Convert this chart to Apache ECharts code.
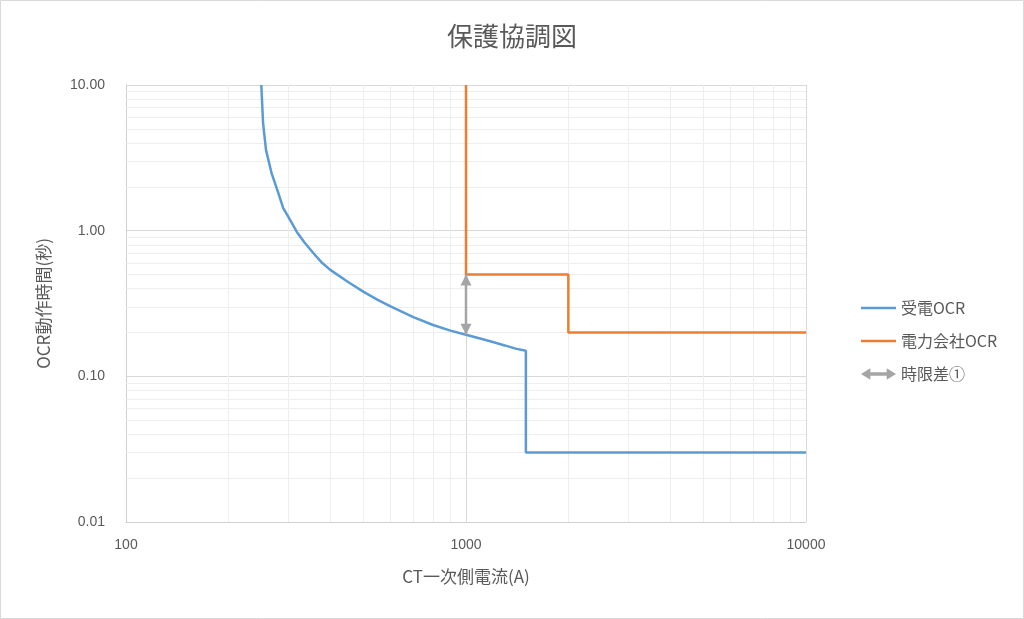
<!DOCTYPE html>
<html><head><meta charset="utf-8">
<script src="https://cdn.jsdelivr.net/npm/echarts@6/dist/echarts.min.js"></script>
<style>html,body{margin:0;padding:0;background:#fff}#c{width:1024px;height:619px}</style>
</head><body><div id="c"></div>
<script>
// 受電OCR: [current (A), time (s)]
const receivingOCR = [
  [250, 10.0], [253, 5.5], [258, 3.6], [268, 2.48], [280, 1.84], [290, 1.43],
  [300, 1.25], [318, 0.98], [335, 0.83], [356, 0.70], [375, 0.61], [398, 0.54],
  [450, 0.444], [500, 0.38], [550, 0.335], [600, 0.302], [700, 0.255], [800, 0.225],
  [900, 0.206], [1000, 0.193], [1100, 0.182], [1200, 0.172], [1300, 0.163],
  [1400, 0.155], [1500, 0.15], [1500, 0.03], [10000, 0.03]
];
// 電力会社OCR
const utilityOCR = [
  [1000, 10.0], [1000, 0.5], [2000, 0.5], [2000, 0.2], [10000, 0.2]
];
// 時限差①: arrow from 受電OCR to 電力会社OCR at 1000 A
const timeDiffStart = [1000, 0.193];
const timeDiffEnd = [1000, 0.5];
const xMinorTicks = [200,300,400,500,600,700,800,900,2000,3000,4000,5000,6000,7000,8000,9000];
const yMinorTicks = [0.02,0.03,0.04,0.05,0.06,0.07,0.08,0.09,0.2,0.3,0.4,0.5,0.6,0.7,0.8,0.9,2,3,4,5,6,7,8,9];

const FONT = '"Liberation Sans","Noto Sans CJK JP",sans-serif';
const JFONT = '"Noto Sans CJK JP",sans-serif';
const TXT = '#595959';
const chart = echarts.init(document.getElementById('c'));
const minorLines = xMinorTicks.map(v => ({xAxis: v})).concat(yMinorTicks.map(v => ({yAxis: v})));
const LINE_ICON = 'path://M0,0 L35,0 L35,2.5 L0,2.5 Z';

chart.setOption({
  animation: false,
  backgroundColor: '#fff',
  textStyle: {fontFamily: FONT},
  graphic: [{type: 'rect', shape: {x: 0.5, y: 0.5, width: 1023, height: 618}, style: {fill: 'none', stroke: '#d9d9d9', lineWidth: 1}, z: -1}],
  title: {text: '保護協調図', left: 'center', top: 18,
    textStyle: {fontFamily: JFONT, fontSize: 26, fontWeight: 'normal', color: TXT}},
  grid: {left: 126, right: 218, top: 85, bottom: 97},
  legend: {
    orient: 'vertical', left: 856, top: 295, itemWidth: 35, itemHeight: 14, itemGap: 17,
    textStyle: {fontFamily: JFONT, fontSize: 16, color: TXT},
    data: [
      {name: '受電OCR', icon: LINE_ICON},
      {name: '電力会社OCR', icon: LINE_ICON},
      {name: '時限差①', icon: 'path://M0,5 L8,0 L8,3.5 L22,3.5 L22,0 L30,5 L22,10 L22,6.5 L8,6.5 L8,10 Z', itemStyle: {color: '#A5A5A5'}}
    ]
  },
  xAxis: {
    type: 'log', logBase: 10, min: 100, max: 10000,
    name: 'CT一次側電流(A)', nameLocation: 'middle', nameGap: 46,
    nameTextStyle: {fontFamily: JFONT, fontSize: 17, color: TXT},
    axisLine: {show: true, lineStyle: {color: '#d0d0d0'}},
    axisTick: {show: false},
    axisLabel: {color: TXT, fontSize: 14, margin: 16, fontFamily: FONT, formatter: v => String(v)},
    splitLine: {show: true, lineStyle: {color: '#d9d9d9', width: 1}}
  },
  yAxis: {
    type: 'log', logBase: 10, min: 0.01, max: 10,
    name: 'OCR動作時間(秒)', nameLocation: 'middle', nameGap: 74, nameRotate: 90,
    nameTextStyle: {fontFamily: JFONT, fontSize: 17, color: TXT},
    axisLine: {show: true, lineStyle: {color: '#d0d0d0'}},
    axisTick: {show: false},
    axisLabel: {color: TXT, fontSize: 14, margin: 21, fontFamily: FONT, formatter: v => Number(v).toFixed(2)},
    splitLine: {show: true, lineStyle: {color: '#d9d9d9', width: 1}}
  },
  series: [
    {
      name: '_minor', type: 'line', data: [], silent: true, z: 1,
      markLine: {silent: true, z: 1, symbol: ['none', 'none'], label: {show: false},
        lineStyle: {color: '#eeeeee', type: 'solid', width: 1}, emphasis: {disabled: true}, data: minorLines}
    },
    {
      name: '受電OCR', type: 'line', data: receivingOCR, symbol: 'none', z: 3,
      lineStyle: {color: '#5B9BD5', width: 2.5}, itemStyle: {color: '#5B9BD5'}
    },
    {
      name: '電力会社OCR', type: 'line', data: utilityOCR, symbol: 'none', z: 3,
      lineStyle: {color: '#ED7D31', width: 2.5}, itemStyle: {color: '#ED7D31'}
    },
    {
      name: '時限差①', type: 'line', z: 4,
      symbol: 'triangle', symbolSize: [11, 11],
      lineStyle: {color: '#A5A5A5', width: 2.5}, itemStyle: {color: '#A5A5A5'},
      data: [
        {value: timeDiffStart, symbolRotate: 180, symbolOffset: [0, '-50%']},
        {value: timeDiffEnd, symbolRotate: 0, symbolOffset: [0, '50%']}
      ]
    }
  ]
});
</script></body></html>
